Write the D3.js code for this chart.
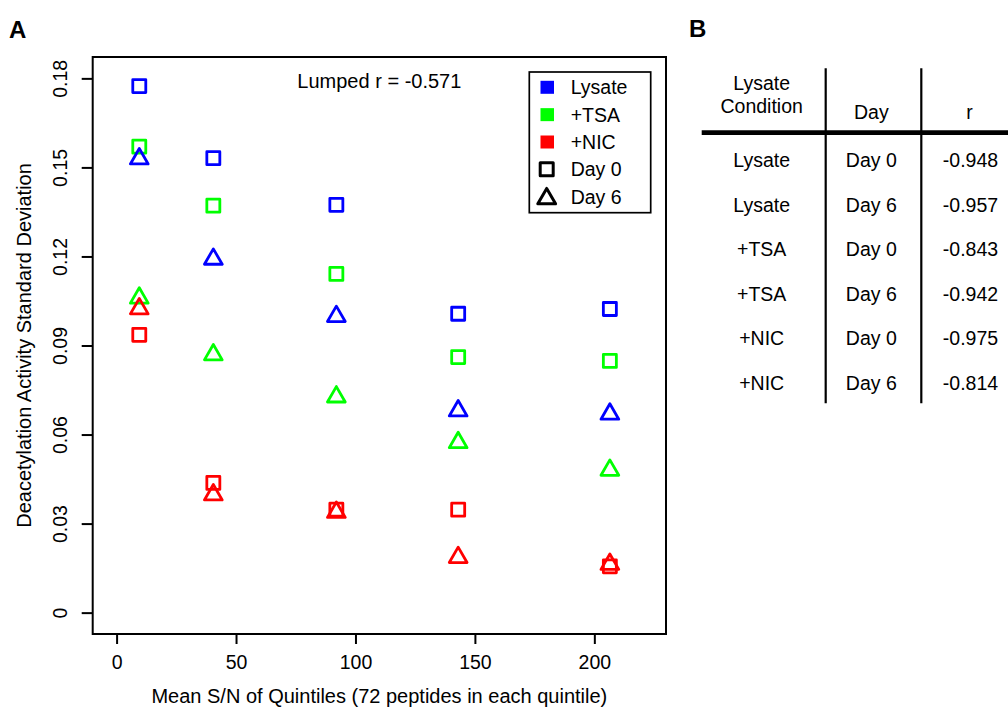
<!DOCTYPE html>
<html>
<head>
<meta charset="utf-8">
<script src="https://cdn.jsdelivr.net/npm/d3@7"></script>
<style>
  body { margin: 0; background: #fff; }
  svg { font-family: "Liberation Sans", Arial, sans-serif; }
</style>
</head>
<body>
<svg width="1008" height="708"></svg>
<script>
// quintile mean S/N (x positions)
const quintileSN = [9.5, 40.5, 92, 143, 206.5];

// deacetylation activity SD per condition / day
const lysateDay0 = [0.1774, 0.1531, 0.1374, 0.1007, 0.1023];
const lysateDay6 = [0.1529, 0.1191, 0.0998, 0.0680, 0.0669];
const tsaDay0 = [0.1570, 0.1371, 0.1141, 0.0861, 0.0848];
const tsaDay6 = [0.1060, 0.0869, 0.0727, 0.0573, 0.0480];
const nicDay0 = [0.0936, 0.0437, 0.0347, 0.0347, 0.0156];
const nicDay6 = [0.1024, 0.0397, 0.0338, 0.0186, 0.0163];

const xTicks = [0, 50, 100, 150, 200];
const yTicks = [0, 0.03, 0.06, 0.09, 0.12, 0.15, 0.18];

const legendConditions = ['Lysate', '+TSA', '+NIC'];
const legendDays = ['Day 0', 'Day 6'];

// table B
const tableCondition = ['Lysate', 'Lysate', '+TSA', '+TSA', '+NIC', '+NIC'];
const tableDay = ['Day 0', 'Day 6', 'Day 0', 'Day 6', 'Day 0', 'Day 6'];
const tableR = ['-0.948', '-0.957', '-0.843', '-0.942', '-0.975', '-0.814'];

const colors = {'Lysate': '#0000ff', '+TSA': '#00ff00', '+NIC': '#ff0000'};

const series = [
  {cond: 'Lysate', day: 0, values: lysateDay0},
  {cond: '+TSA', day: 0, values: tsaDay0},
  {cond: '+NIC', day: 0, values: nicDay0},
  {cond: 'Lysate', day: 6, values: lysateDay6},
  {cond: '+TSA', day: 6, values: tsaDay6},
  {cond: '+NIC', day: 6, values: nicDay6}
];

const svg = d3.select('svg');
const fs = 19.5;
const fsTitle = 20;
const ff = '"Liberation Sans", Arial, sans-serif';

const box = {left: 92.7, right: 666, top: 57, bottom: 634};
const x = d3.scaleLinear().domain([-10, 230]).range([box.left, box.right]);
const y = d3.scaleLinear().domain([-0.0072, 0.1872]).range([box.bottom, box.top]);

// marker shapes (R pch 0 / pch 2 style)
const sq = 6.5;
const xc = 6.6;
const squarePath = `M${-sq},${-sq}H${sq}V${sq}H${-sq}Z`;
const triPath = `M0,${-1.5551 * xc}L${1.3468 * xc},${0.7776 * xc}L${-1.3468 * xc},${0.7776 * xc}Z`;

// panel letters
svg.append('text').attr('x', 9).attr('y', 38).attr('font-size', 24).attr('font-weight', 'bold').text('A');
svg.append('text').attr('x', 689).attr('y', 37).attr('font-size', 24).attr('font-weight', 'bold').text('B');

// axes
const xAxis = svg.append('g')
  .attr('transform', `translate(0,${box.bottom})`)
  .call(d3.axisBottom(x).tickValues(xTicks).tickSize(10).tickSizeOuter(0));
xAxis.select('.domain').remove();
xAxis.selectAll('line').attr('stroke', '#000').attr('stroke-width', 2);
xAxis.selectAll('text').attr('y', 35.3).attr('dy', null)
  .attr('font-size', fs).attr('font-family', ff).attr('fill', '#000');

const yAxis = svg.append('g')
  .attr('transform', `translate(${box.left},0)`)
  .call(d3.axisLeft(y).tickValues(yTicks).tickSize(11).tickSizeOuter(0)
    .tickFormat(d => d === 0 ? '0' : d3.format('.2f')(d)));
yAxis.select('.domain').remove();
yAxis.selectAll('line').attr('stroke', '#000').attr('stroke-width', 2);
yAxis.selectAll('text')
  .attr('x', null).attr('dy', null)
  .attr('text-anchor', 'middle')
  .attr('transform', `translate(${66.7 - box.left},0) rotate(-90)`)
  .attr('font-size', fs).attr('font-family', ff).attr('fill', '#000');

// plot box
svg.append('rect')
  .attr('x', box.left).attr('y', box.top)
  .attr('width', box.right - box.left).attr('height', box.bottom - box.top)
  .attr('fill', 'none').attr('stroke', '#000').attr('stroke-width', 2);

// axis titles
svg.append('text')
  .attr('x', (box.left + box.right) / 2).attr('y', 703)
  .attr('text-anchor', 'middle').attr('font-size', fsTitle)
  .text('Mean S/N of Quintiles (72 peptides in each quintile)');
svg.append('text')
  .attr('transform', `translate(30.5,${(box.top + box.bottom) / 2}) rotate(-90)`)
  .attr('text-anchor', 'middle').attr('font-size', fsTitle)
  .text('Deacetylation Activity Standard Deviation');

svg.append('text')
  .attr('x', (box.left + box.right) / 2).attr('y', 88.3)
  .attr('text-anchor', 'middle').attr('font-size', fsTitle)
  .text('Lumped r = -0.571');

// points
series.forEach(s => {
  svg.append('g').selectAll('path')
    .data(s.values)
    .join('path')
      .attr('d', s.day === 0 ? squarePath : triPath)
      .attr('transform', (d, i) => `translate(${x(quintileSN[i])},${y(d)})`)
      .attr('fill', 'none')
      .attr('stroke', colors[s.cond])
      .attr('stroke-width', 2.8)
      .attr('stroke-linejoin', 'round');
});

// legend
const lg = svg.append('g');
lg.append('rect')
  .attr('x', 529.3).attr('y', 72).attr('width', 121.4).attr('height', 140.7)
  .attr('fill', '#fff').attr('stroke', '#000').attr('stroke-width', 1.7);
const legendItems = legendConditions.map(c => ({label: c, type: 'fill', color: colors[c]}))
  .concat(legendDays.map((d, i) => ({label: d, type: i === 0 ? 'sq' : 'tri', color: '#000'})));
const ly = d3.scalePoint().domain(legendItems.map(d => d.label)).range([87.3, 196.7]);
legendItems.forEach(item => {
  const cy = ly(item.label);
  if (item.type === 'fill') {
    lg.append('rect').attr('x', 540.5).attr('y', cy - 6.5).attr('width', 13.5).attr('height', 13)
      .attr('fill', item.color);
  } else {
    lg.append('path')
      .attr('d', item.type === 'sq' ? squarePath : triPath)
      .attr('transform', `translate(546.7,${cy + (item.type === 'tri' ? 2 : 0)})`)
      .attr('fill', 'none').attr('stroke', '#000').attr('stroke-width', 3)
      .attr('stroke-linejoin', 'round');
  }
  lg.append('text').attr('x', 570.7).attr('y', cy + 6.9).attr('font-size', fs).text(item.label);
});

// table B
const tb = svg.append('g');
const colX = [761.7, 871.3, 970.5];
tb.append('line').attr('x1', 825.7).attr('x2', 825.7).attr('y1', 68.3).attr('y2', 403.3)
  .attr('stroke', '#000').attr('stroke-width', 2.2);
tb.append('line').attr('x1', 921.3).attr('x2', 921.3).attr('y1', 68.3).attr('y2', 403.3)
  .attr('stroke', '#000').attr('stroke-width', 2.2);
tb.append('line').attr('x1', 701.7).attr('x2', 1008).attr('y1', 132.7).attr('y2', 132.7)
  .attr('stroke', '#000').attr('stroke-width', 4.7);

tb.append('text').attr('x', colX[0]).attr('y', 89.5).attr('text-anchor', 'middle').attr('font-size', fs).text('Lysate');
tb.append('text').attr('x', colX[0]).attr('y', 113.3).attr('text-anchor', 'middle').attr('font-size', fs).text('Condition');
tb.append('text').attr('x', colX[1]).attr('y', 119.3).attr('text-anchor', 'middle').attr('font-size', fs).text('Day');
tb.append('text').attr('x', colX[2] - 1).attr('y', 119.3).attr('text-anchor', 'middle').attr('font-size', fs).text('r');

const rowY = d3.scaleLinear().domain([0, 5]).range([167, 389.6]);
[tableCondition, tableDay, tableR].forEach((col, ci) => {
  tb.append('g').selectAll('text')
    .data(col)
    .join('text')
      .attr('x', colX[ci])
      .attr('y', (d, i) => rowY(i))
      .attr('text-anchor', 'middle')
      .attr('font-size', fs)
      .text(d => d);
});
</script>
</body>
</html>
